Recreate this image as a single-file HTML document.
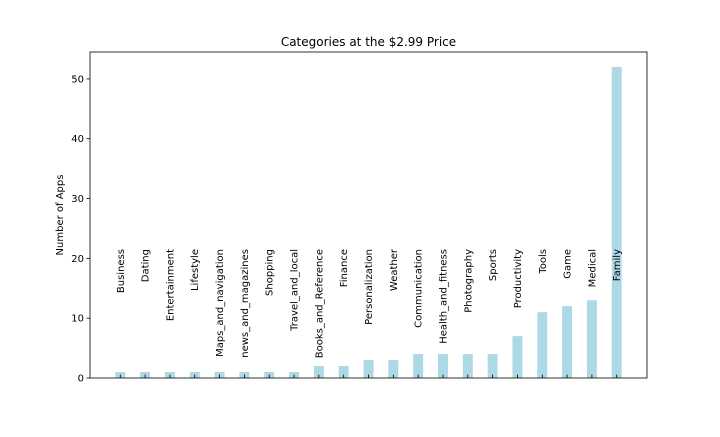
<!DOCTYPE html>
<html><head><meta charset="utf-8"><style>
body{margin:0;background:#fff;}
svg text{font-family:"DejaVu Sans","Liberation Sans",sans-serif;}
</style></head><body>
<svg id="chart" width="720" height="432">
<rect x="0" y="0" width="720" height="432" fill="#fff"/>
<text x="368.5" y="46" font-size="12" text-anchor="middle">Categories at the $2.99 Price</text>
<text transform="translate(63,215) rotate(-90)" font-size="10" text-anchor="middle">Number of Apps</text>
<g id="bars"></g><g id="labels"></g><g id="yaxis"></g><g id="xticks"></g>
<rect x="90" y="52" width="557" height="326" fill="none" stroke="#000" stroke-width="0.8"/>
</svg>
<script>
const categories=["Business","Dating","Entertainment","Lifestyle","Maps_and_navigation","news_and_magazines","Shopping","Travel_and_local","Books_and_Reference","Finance","Personalization","Weather","Communication","Health_and_fitness","Photography","Sports","Productivity","Tools","Game","Medical","Family"];
const counts=[1,1,1,1,1,1,1,1,2,2,3,3,4,4,4,4,7,11,12,13,52];
const yTicks=[0,10,20,30,40,50];
const L=90,R=647,T=52,B=378;
const xmin=-1.22,xmax=categories.length-1+1.22;
const ymax=54.5;
const xs=i=>L+(i-xmin)/(xmax-xmin)*(R-L);
const ys=v=>B-v/ymax*(B-T);
const NS="http://www.w3.org/2000/svg";
const mk=(t,a)=>{const e=document.createElementNS(NS,t);for(const k in a)e.setAttribute(k,a[k]);return e;};
const bw=0.4*(R-L)/(xmax-xmin);
const gb=document.getElementById('bars'),gl=document.getElementById('labels'),gy=document.getElementById('yaxis'),gx=document.getElementById('xticks');
counts.forEach((v,i)=>{
 const r=mk('rect',{x:xs(i)-bw/2,y:ys(v),width:bw,height:B-ys(v),fill:'#add8e6'});
 
 
 gb.appendChild(r);
 const tk=mk('line',{x1:xs(i),x2:xs(i),y1:B,y2:B-3.5,stroke:'#000','stroke-width':0.8});
 
 
 gx.appendChild(tk);
 const t=mk('text',{transform:`translate(${xs(i)+3.5},249) rotate(-90)`,'font-size':10,'text-anchor':'end'});
 t.textContent=categories[i];
 
 
 gl.appendChild(t);
});
yTicks.forEach(v=>{
 const l=mk('line',{x1:L-3.5,x2:L,y1:ys(v),y2:ys(v),stroke:'#000','stroke-width':0.8});
 
 
 gy.appendChild(l);
 const t=mk('text',{x:L-6,y:ys(v)+3.5,'font-size':10,'text-anchor':'end'});
 t.textContent=v;
 
 
 gy.appendChild(t);
});
</script>
</body></html>
